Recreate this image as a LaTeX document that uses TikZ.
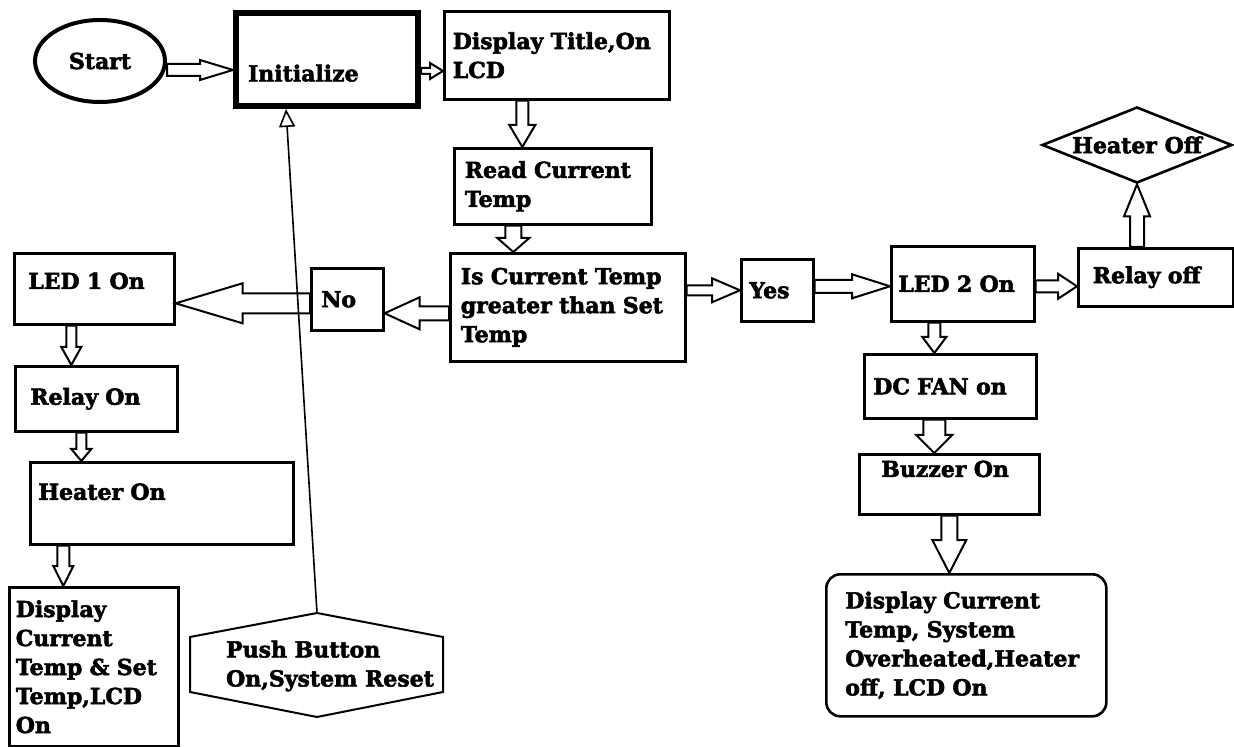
\documentclass[tikz,border=0pt]{standalone}
\usepackage{fontspec}
\setmainfont{DejaVu Serif}[BoldFeatures={FakeBold=2.5}]
\usetikzlibrary{calc,arrows.meta,shapes.geometric}
\tikzset{
  lbl/.style={font=\bfseries\fontsize{11}{14.5}\selectfont},
  box/.style={lbl,draw,line width=1.3pt,anchor=north west,align=left,inner xsep=0pt,inner ysep=3pt},
  term/.style={lbl,ellipse,draw,line width=2pt},
  dia/.style={lbl,diamond,draw,line width=1.3pt,aspect=2.5,inner sep=0pt},
  blk/.style={draw,line width=1pt,line join=miter},
  % hollow block arrow: shaft half-width, head half-width, head length
  fat/.style n args={3}{to path={let \p1=(\tikztostart), \p2=(\tikztotarget),
      \n1={atan2(\y2-\y1,\x2-\x1)}, \n2={veclen(\x2-\x1,\y2-\y1)} in
      ($(\p1)+(\n1+90:#1)$) -- ($(\p1)+(\n1:\n2-#3)+(\n1+90:#1)$)
      -- ($(\p1)+(\n1:\n2-#3)+(\n1+90:#2)$) -- (\p2)
      -- ($(\p1)+(\n1:\n2-#3)+(\n1-90:#2)$) -- ($(\p1)+(\n1:\n2-#3)+(\n1-90:#1)$)
      -- ($(\p1)+(\n1-90:#1)$) -- cycle}},
  thinar/.style={-{Triangle[open,length=9pt,width=8pt]},line width=0.8pt}
}
\begin{document}
\begin{tikzpicture}[x=0.5pt,y=-0.5pt]
\useasboundingbox (0,0) rectangle (1234,747);
% main column
\node[term,minimum width=65pt,minimum height=41pt] (start) at (100,61) {Start};
\node[box,line width=3pt,minimum width=91pt,minimum height=46.5pt,text width=79pt,text height=22pt] (init) at (233,10) {Initialize};
\node[box,minimum width=112.5pt,minimum height=44pt,text width=104pt] (dtitle) at (443,10) {Display~Title,On\\LCD};
\node[box,minimum width=98.5pt,minimum height=38pt,text width=88pt] (read) at (453,147) {Read~Current\\Temp};
\node[box,minimum width=117.5pt,minimum height=54pt,text width=107pt] (iscur) at (449,252) {Is~Current~Temp\\greater~than~Set\\Temp};
% yes branch
\node[box,minimum width=36pt,minimum height=31pt,text width=28pt] (yes) at (740,258) {Yes};
\node[box,minimum width=71.5pt,minimum height=37.5pt,text width=64.5pt] (led2) at (890,245) {LED~2~On};
\node[box,minimum width=77.5pt,minimum height=29pt,text width=63pt] (roff) at (1077,247) {Relay~off};
\node[dia,minimum width=95pt,minimum height=38pt] (hoff) at (1137,145) {Heater~Off};
\node[box,minimum width=86pt,minimum height=32pt,text width=77pt] (fan) at (863,353) {DC~FAN~on};
\node[box,minimum width=90pt,minimum height=30pt,text width=68pt,text depth=15.5pt] (buzz) at (858,453) {Buzzer~On};
\node[box,rounded corners=7pt,minimum width=140pt,minimum height=71pt,text width=121pt] (dispr) at (825,573) {Display~Current\\Temp,~System\\Overheated,Heater\\off,~LCD~On};
% no branch
\node[box,minimum width=80pt,minimum height=35.5pt,text width=66pt,text depth=8pt] (led1) at (13,252) {LED~1~On};
\node[box,minimum width=36pt,minimum height=31pt,text width=26pt] (no) at (310,267) {No};
\node[box,minimum width=81pt,minimum height=32.5pt,text width=66pt] (ron) at (14,365) {Relay~On};
\node[box,minimum width=131.5pt,minimum height=41pt,text width=123.5pt,text depth=11.7pt] (hon) at (29,461) {Heater~On};
\node[box,minimum width=84.5pt,minimum height=79.5pt,text width=78pt] (displ) at (8,586) {Display\\Current\\Temp~\&~Set\\Temp,LCD\\On};
% reset button
\coordinate (ptop) at (317,613);
\draw[line width=1pt] (ptop) -- (443,637) -- (443,692) -- (317,717) -- (190,692) -- (190,637) -- cycle;
\node[lbl,align=left] (push) at (330,666) {Push~Button\\On,System~Reset};
% arrows
\draw[blk] ($(start.east)+(0,9)$) to[fat={3pt}{5pt}{16.5pt}] ($(start.east -| init.west)+(0,9)$);
\draw[blk] ($(init.east)+(0,11.5)$) to[fat={1.5pt}{4pt}{6.5pt}] ($(init.east -| dtitle.west)+(0,11.5)$);
\draw[blk] ($(dtitle.south)+(-34.5,0)$) to[fat={3pt}{6.5pt}{11pt}] ($(dtitle.south |- read.north)+(-34.5,0)$);
\draw[blk] ($(read.south)+(-39.5,0)$) to[fat={4pt}{8pt}{7pt}] ($(read.south |- iscur.north)+(-39.5,0)$);
\draw[blk] (iscur.east |- yes.west) to[fat={2.5pt}{6pt}{14pt}] (yes.west);
\draw[blk] ($(yes.east)+(0,-4)$) to[fat={3.25pt}{6pt}{19pt}] ($(yes.east -| led2.west)+(0,-4)$);
\draw[blk] ($(led2.east)+(0,2.5)$) to[fat={3pt}{6.25pt}{9.5pt}] ($(led2.east -| roff.west)+(0,2.5)$);
\draw[blk] (roff.north -| hoff.south) to[fat={3.5pt}{6.5pt}{16pt}] (hoff.south);
\draw[blk] ($(led2.south)+(-28.5,0)$) to[fat={3pt}{6pt}{8pt}] ($(led2.south |- fan.north)+(-28.5,0)$);
\draw[blk] ($(fan.south)+(-16,0)$) to[fat={5.5pt}{9pt}{9pt}] ($(fan.south |- buzz.north)+(-16,0)$);
\draw[blk] (buzz.south) to[fat={4pt}{8.5pt}{16.5pt}] (buzz.south |- dispr.north);
\draw[blk] ($(iscur.west)+(0,6)$) to[fat={3.5pt}{8pt}{17.5pt}] ($(iscur.west -| no.east)+(0,6)$);
\draw[blk] ($(no.west)+(0,4)$) to[fat={5pt}{10pt}{33.5pt}] ($(no.west -| led1.east)+(0,4)$);
\draw[blk] ($(led1.south)+(-23,0)$) to[fat={2.5pt}{5pt}{9pt}] ($(led1.south |- ron.north)+(-23,0)$);
\draw[blk] ($(ron.south)+(-15,0)$) to[fat={2.5pt}{5pt}{6pt}] ($(ron.south |- hon.north)+(-15,0)$);
\draw[blk] ($(hon.south)+(-98.5,0)$) to[fat={3pt}{5pt}{10pt}] ($(hon.south |- displ.north)+(-98.5,0)$);
\draw[thinar] (ptop) -- ($(init.south west)+(53,0)$);
\end{tikzpicture}
\end{document}
